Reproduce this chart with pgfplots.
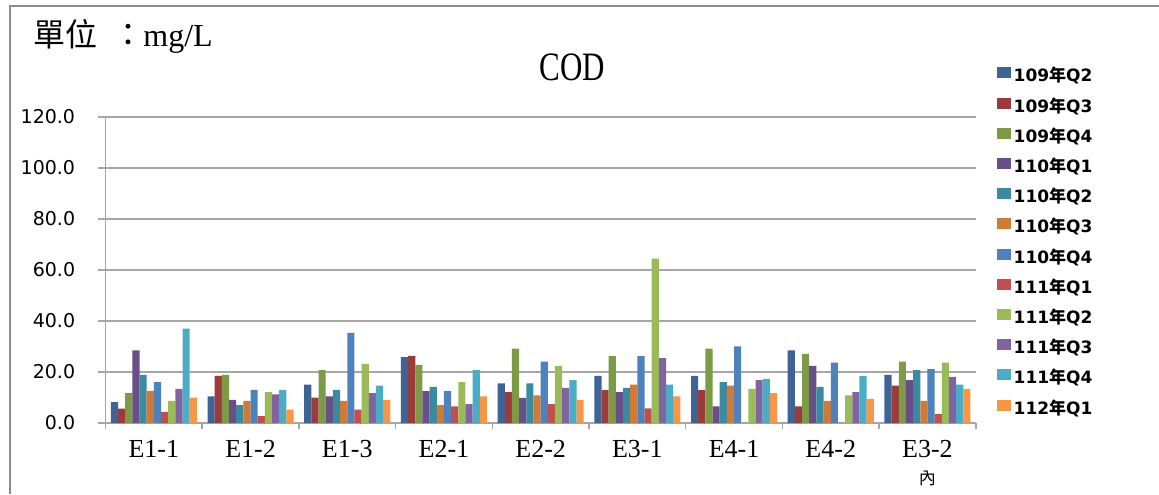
\documentclass[border=0pt]{standalone}
\usepackage{fontspec}
\usepackage{graphicx}
\usepackage{pgfplots}
\usepackage{pgfplotstable}
\pgfplotsset{compat=1.18}
\setmainfont{Liberation Serif}
\newfontfamily\cjk{Noto Sans CJK TC}
\newfontfamily\verd{DejaVu Sans}

\definecolor{c1}{HTML}{3E6496}
\definecolor{c2}{HTML}{9C3C3A}
\definecolor{c3}{HTML}{7D9A47}
\definecolor{c4}{HTML}{684F87}
\definecolor{c5}{HTML}{3A8BA0}
\definecolor{c6}{HTML}{CF7A37}
\definecolor{c7}{HTML}{4F81BD}
\definecolor{c8}{HTML}{C0504D}
\definecolor{c9}{HTML}{9BBB59}
\definecolor{c10}{HTML}{8064A2}
\definecolor{c11}{HTML}{4BACC6}
\definecolor{c12}{HTML}{F79646}
\definecolor{gridgray}{HTML}{A6A6A6}
\definecolor{framegray}{HTML}{8C8C8C}

% COD (mg/L), one row per station, one column per quarter
\pgfplotstableread{
x  a    b    c    d    e    f    g    h    i    j    k    l
0  8.2  5.6  11.7 28.5 18.9 12.6 16.0 4.4  8.7  13.4 37.0 10.0
1  10.4 18.5 18.9 9.1  7.0  8.7  13.0 2.7  12.1 11.2 13.0 5.2
2  15.1 10.0 20.7 10.4 13.0 8.7  35.3 5.2  23.2 11.7 14.7 9.1
3  25.8 26.3 22.8 12.5 14.2 7.0  12.5 6.5  16.0 7.4  20.7 10.4
4  15.5 12.1 29.2 9.9  15.5 10.8 24.1 7.4  22.4 13.8 16.8 9.1
5  18.5 12.9 26.2 12.1 13.8 15.1 26.2 5.7  64.5 25.4 15.1 10.4
6  18.5 12.9 29.2 6.5  16.0 14.7 30.1 nan  13.4 16.8 17.3 11.7
7  28.5 6.5  27.1 22.4 14.2 8.7  23.7 nan  10.8 12.1 18.5 9.5
8  18.9 14.7 24.1 16.8 20.7 8.7  21.1 3.5  23.7 18.1 15.1 13.4
}\cod

\newcommand{\nian}{{\cjk\bfseries 年}}
\pgfplotsset{
  sqlegend/.style={legend image code/.code={
      \fill[##1, draw=none] (0pt,-0.5pt) rectangle (7pt,5pt);}},
}

\begin{document}
\begin{tikzpicture}
\useasboundingbox (0,0) rectangle (579.5pt,247pt);
\draw[framegray, line width=1pt] (5pt,0) -- (5pt,244pt) -- (579.5pt,244pt);

\begin{axis}[
    at={(52.75pt,35.5pt)}, anchor=south west,
    scale only axis, width=435.15pt, height=153pt,
    xmin=-0.5, xmax=8.5, ymin=0, ymax=120,
    ybar=0pt, bar width=3.585pt,
    clip=false,
    axis x line*=bottom, axis y line*=left,
    axis line style={gridgray, line width=0.75pt},
    tick pos=left, tick align=outside,
    major tick length=4pt, minor tick length=3pt,
    xtick={0,...,8},
    xticklabels={E1-1,E1-2,E1-3,E2-1,E2-2,E3-1,E4-1,E4-2,E3-2},
    minor xtick={-0.5,0.5,...,8.5},
    major x tick style={draw=none},
    minor x tick style={gridgray, line width=0.75pt},
    ytick={0,20,...,120},
    y tick style={gridgray, line width=0.75pt},
    ymajorgrids, grid style={gridgray, line width=0.75pt},
    xticklabel style={font=\fontsize{13}{13}\selectfont, anchor=base, yshift=-13pt},
    yticklabel style={font=\verd\fontsize{9.5}{9.5}\selectfont, anchor=east, inner sep=0pt, xshift=-11pt},
    /pgf/number format/.cd, fixed, fixed zerofill, precision=1, assume math mode=true,
    /pgfplots/.cd,
    sqlegend,
    legend style={draw=none, fill=none, at={(1.024,1.162)}, anchor=north west,
        inner sep=0pt, outer sep=0pt, row sep=6.35pt, column sep=1.5pt,
        font=\verd\bfseries\fontsize{8.5}{8.5}\selectfont,
        nodes={inner sep=0pt, text height=6pt, text depth=1.5pt}},
    legend cell align=left,
    every axis plot/.append style={draw=none},
    every axis plot post/.append style={sqlegend},
]
\addplot[fill=c1]  table[x=x, y=a] {\cod};
\addplot[fill=c2]  table[x=x, y=b] {\cod};
\addplot[fill=c3]  table[x=x, y=c] {\cod};
\addplot[fill=c4]  table[x=x, y=d] {\cod};
\addplot[fill=c5]  table[x=x, y=e] {\cod};
\addplot[fill=c6]  table[x=x, y=f] {\cod};
\addplot[fill=c7]  table[x=x, y=g] {\cod};
\addplot[fill=c8]  table[x=x, y=h] {\cod};
\addplot[fill=c9]  table[x=x, y=i] {\cod};
\addplot[fill=c10] table[x=x, y=j] {\cod};
\addplot[fill=c11] table[x=x, y=k] {\cod};
\addplot[fill=c12] table[x=x, y=l] {\cod};
\legend{109\nian Q2,109\nian Q3,109\nian Q4,110\nian Q1,110\nian Q2,110\nian Q3,
        110\nian Q4,111\nian Q1,111\nian Q2,111\nian Q3,111\nian Q4,112\nian Q1}
\node[font=\cjk\fontsize{8.5}{8.5}\selectfont, anchor=base, inner sep=0pt]
    at (axis cs:8,0) [yshift=-30.5pt] {內};
\end{axis}

\node[anchor=base, inner sep=0pt, font=\fontsize{15.5}{15.5}\selectfont]
    at (286.25pt,207pt) {\scalebox{1}[1.3]{COD}};
\node[anchor=base west, inner sep=0pt, font=\cjk\fontsize{16}{16}\selectfont]
    at (16.5pt,224pt) {單位};
\node[anchor=base, inner sep=0pt, font=\cjk\fontsize{16}{16}\selectfont]
    at (64pt,224pt) {：};
\node[anchor=base west, inner sep=0pt, font=\fontsize{16}{16}\selectfont]
    at (71.5pt,224pt) {mg/L};
\end{tikzpicture}
\end{document}
